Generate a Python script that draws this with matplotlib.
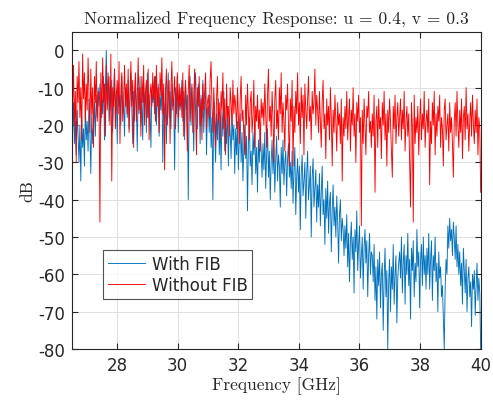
import numpy as np
import matplotlib
matplotlib.use("Agg")
import matplotlib.pyplot as plt

# Values read (estimated) from the reference, 30 samples per 0.9 GHz block
with_fib = [
    -17,-22,-14,-25,-19,-28,-16,-23,-30,-20,-35,-18,-26,-21,-31,-15,-24,-19,-27,-13,-22,-33,-17,-25,-20,-14,-23,-12,-18,-10,
    -15,-9,-20,-12,-17,-7,-24,-11,0,-14,-6,-19,-10,-16,-8,-22,-13,-5,-18,-11,-25,-9,-15,-12,-20,-7,-17,-14,-23,-10,
    -12,-18,-8,-21,-13,-6,-16,-25,-11,-19,-9,-14,-27,-10,-17,-7,-20,-13,-24,-9,-15,-11,-22,-6,-18,-12,-16,-26,-10,-14,
    -11,-17,-7,-20,-13,-9,-23,-12,-16,-8,-30,-14,-19,-10,-25,-12,-6,-18,-11,-21,-9,-15,-13,-32,-10,-17,-7,-22,-12,-16,
    -13,-8,-19,-11,-24,-9,-16,-12,-40,-14,-7,-20,-10,-17,-27,-11,-6,-15,-21,-9,-13,-25,-12,-18,-8,-22,-14,-10,-28,-16,
    -15,-22,-12,-26,-18,-40,-14,-21,-30,-17,-24,-13,-28,-19,-32,-16,-23,-11,-27,-20,-25,-15,-31,-18,-22,-29,-17,-24,-20,-33,
    -21,-28,-19,-32,-24,-17,-30,-22,-35,-26,-20,-29,-23,-43,-25,-18,-31,-27,-36,-22,-28,-20,-33,-26,-38,-24,-30,-21,-27,-34,
    -25,-32,-22,-37,-28,-21,-34,-27,-40,-30,-24,-33,-26,-38,-29,-23,-35,-28,-31,-42,-26,-33,-24,-36,-30,-27,-39,-29,-25,-34,
    -30,-37,-27,-41,-32,-26,-44,-34,-29,-38,-31,-48,-33,-28,-39,-35,-30,-45,-33,-27,-40,-36,-31,-50,-34,-29,-42,-37,-32,-46,
    -36,-42,-33,-47,-38,-31,-44,-40,-52,-37,-45,-35,-49,-41,-38,-54,-43,-36,-47,-42,-50,-39,-46,-57,-44,-40,-51,-45,-48,-55,
    -47,-53,-44,-58,-49,-62,-51,-46,-56,-50,-65,-48,-54,-43,-59,-52,-47,-61,-55,-50,-64,-53,-48,-57,-51,-66,-55,-49,-60,-54,
    -55,-62,-52,-67,-58,-72,-56,-63,-54,-69,-60,-57,-75,-61,-53,-66,-59,-80,-62,-56,-70,-58,-64,-52,-68,-60,-55,-73,-61,-57,
    -54,-61,-50,-65,-57,-52,-68,-55,-60,-49,-63,-56,-72,-53,-59,-51,-66,-57,-62,-48,-58,-54,-69,-56,-52,-63,-50,-60,-55,-64,
    -53,-60,-49,-64,-56,-51,-67,-55,-59,-50,-62,-57,-70,-54,-61,-58,-66,-63,-72,-80,-64,-56,-60,-47,-53,-45,-51,-48,-55,-46,
    -50,-56,-47,-58,-52,-60,-54,-63,-57,-68,-53,-59,-65,-56,-70,-61,-58,-66,-62,-74,-60,-64,-59,-71,-63,-57,-67,-61,-65,-80,
]

without_fib = [
    -8,-15,-4,-20,-11,-30,-7,-14,-3,-18,-10,-24,-1,-13,-6,-19,-9,-16,-2,-12,-22,-5,-17,-10,-26,-7,-14,-3,-19,-11,
    -12,-46,-6,-18,-2,-14,-9,-23,-4,-16,-11,-7,-20,-1,-35,-10,-15,-5,-21,-12,-8,-17,-3,-25,-11,-6,-19,-13,-4,-15,
    -9,-17,-5,-22,-12,-3,-15,-8,-26,-11,-6,-19,-13,-2,-16,-10,-23,-7,-14,-4,-20,-11,-8,-18,-5,-24,-12,-9,-15,-6,
    -13,-7,-19,-4,-15,-10,-22,-6,-12,-2,-17,-9,-32,-11,-5,-20,-13,-8,-25,-10,-3,-16,-12,-7,-21,-14,-6,-18,-9,-15,
    -10,-18,-6,-23,-13,-8,-16,-27,-11,-4,-19,-14,-9,-22,-12,-5,-17,-28,-10,-15,-7,-20,-13,-24,-9,-16,-11,-6,-21,-14,
    -12,-18,-8,-3,-15,-22,-10,-17,-26,-13,-7,-19,-14,-24,-11,-16,-6,-21,-13,-28,-9,-18,-15,-23,-10,-14,-20,-8,-17,-12,
    -15,-21,-10,-18,-25,-13,-7,-19,-16,-23,-28,-12,-20,-9,-17,-24,-14,-11,-22,-18,-8,-26,-15,-19,-12,-21,-16,-27,-13,-18,
    -14,-20,-9,-17,-26,-12,-5,-19,-15,-23,-11,-18,-30,-13,-8,-21,-16,-24,-10,-17,-6,-22,-14,-19,-27,-12,-16,-9,-20,-31,
    -13,-19,-8,-31,-15,-22,-11,-17,-6,-20,-14,-25,-10,-18,-12,-28,-9,-16,-21,-13,-7,-19,-15,-24,-11,-17,-14,-5,-20,-12,
    -16,-22,-11,-19,-26,-14,-8,-21,-17,-29,-13,-20,-15,-24,-10,-18,-31,-16,-22,-12,-19,-27,-14,-20,-17,-25,-13,-35,-18,-23,
    -15,-21,-11,-24,-18,-13,-27,-16,-20,-10,-23,-17,-30,-14,-19,-12,-22,-18,-47,-16,-25,-13,-20,-28,-15,-18,-11,-22,-19,-26,
    -17,-23,-12,-38,-19,-15,-26,-13,-21,-18,-29,-14,-20,-11,-24,-17,-31,-16,-22,-13,-19,-27,-34,-15,-21,-12,-25,-18,-14,-23,
    -18,-13,-24,-16,-21,-11,-27,-19,-15,-23,-17,-30,-42,-14,-20,-46,-12,-25,-18,-22,-15,-28,-19,-13,-24,-17,-21,-11,-26,-19,
    -16,-22,-13,-36,-19,-25,-14,-20,-11,-28,-17,-23,-15,-19,-12,-26,-18,-21,-31,-16,-13,-24,-20,-17,-27,-14,-22,-18,-25,-34,
    -19,-14,-23,-11,-20,-26,-16,-22,-13,-29,-18,-15,-24,-10,-21,-17,-27,-19,-14,-23,-12,-20,-25,-16,-22,-13,-28,-18,-21,-38,
]

f_start, f_stop = 26.5, 40.0
x_ticks = [28, 30, 32, 34, 36, 38, 40]
y_ticks = [-80, -70, -60, -50, -40, -30, -20, -10, 0]
series_labels = ["With FIB", "Without FIB"]
title_text = "Normalized Frequency Response: u = 0.4, v = 0.3"
x_label = "Frequency [GHz]"
y_label = "dB"

plt.rcParams["font.family"] = "DejaVu Sans"
plt.rcParams["axes.unicode_minus"] = False

freq_b = np.linspace(f_start, f_stop, len(with_fib))
freq_r = np.linspace(f_start, f_stop, len(without_fib))

fig = plt.figure(figsize=(4.93, 4.02), dpi=100)
ax = fig.add_axes([0.1454, 0.1294, 0.8296, 0.7893])

ax.plot(freq_b, with_fib, color="#0072BD", lw=0.65, label=series_labels[0])
ax.plot(freq_r, without_fib, color="#FF0000", lw=0.65, label=series_labels[1])

ax.set_xlim(f_start, f_stop)
ax.set_ylim(-80, 5)
ax.set_xticks(x_ticks)
ax.set_yticks(y_ticks)
ax.set_xticklabels([str(t) for t in x_ticks])
ax.set_yticklabels([str(t) for t in y_ticks])

ax.grid(True, color="#dcdcdc", lw=0.6)
ax.set_axisbelow(True)
ax.tick_params(direction="in", top=True, right=True, length=4, width=0.8,
               colors="#262626", labelsize=12, pad=5)
for s in ax.spines.values():
    s.set_color("#262626")
    s.set_linewidth(0.8)

serif = dict(family="cmr10", color="#262626")
ax.set_title(title_text, fontsize=12.6, pad=6, **serif)
ax.set_xlabel(x_label, fontsize=12.5, labelpad=2, **serif)
ax.set_ylabel(y_label, fontsize=12.5, labelpad=2, **serif)

leg = ax.legend(loc="upper left", bbox_to_anchor=(0.077, 0.313), borderaxespad=0,
                fontsize=12, frameon=True, fancybox=False, handlelength=2.2,
                handletextpad=0.4, borderpad=0.3, labelspacing=0.2)
leg.get_frame().set_edgecolor("#262626")
leg.get_frame().set_linewidth(0.8)
for t in leg.get_texts():
    t.set_color("#262626")

fig.savefig("out.png", dpi=100)
